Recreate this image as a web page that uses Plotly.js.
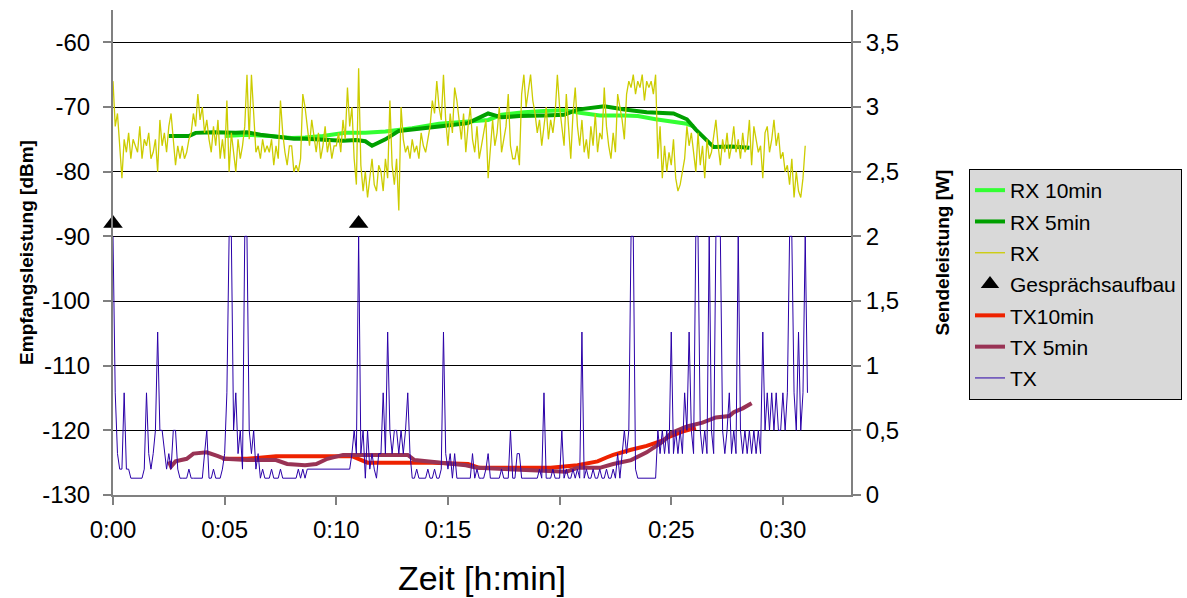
<!DOCTYPE html>
<html><head><meta charset="utf-8">
<script src="https://cdn.plot.ly/plotly-3.0.1.min.js"></script>
<style>html,body{margin:0;padding:0;background:#fff}#chart{width:1187px;height:598px}</style>
</head><body><div id="chart"></div>
<script>
// Raw samples every 0.1 min, starting at 0:00
const SAMPLE_STEP_MIN = 0.1;

// RX [dBm], one row per minute (10 samples)
const rxValues = [
 -66,-73,-71,-77,-81,-75,-77,-74,-78,-75,
 -76,-77,-73,-78,-75,-76,-74,-78,-77,-75,
 -80,-72,-76,-74,-77,-73,-71,-75,-79,-76,
 -78,-76,-78,-77,-75,-74,-71,-73,-68,-72,
 -70,-74,-72,-75,-77,-73,-76,-72,-78,-75,
 -78,-69,-80,-74,-77,-80,-75,-78,-76,-73,
 -65,-75,-65,-72,-77,-76,-78,-75,-77,-76,
 -77,-75,-79,-76,-78,-69,-74,-77,-79,-76,
 -76,-80,-79,-80,-78,-68,-70,-73,-76,-72,
 -75,-77,-74,-78,-76,-73,-77,-75,-78,-76,
 -76,-74,-77,-72,-75,-67,-73,-70,-78,-82,
 -64,-79,-83,-80,-84,-81,-78,-82,-83,-79,
 -80,-83,-78,-81,-69,-79,-82,-78,-86,-70,
 -75,-77,-76,-78,-75,-77,-76,-78,-74,-76,
 -77,-75,-73,-69,-71,-66,-70,-72,-65,-72,
 -76,-71,-74,-67,-69,-72,-75,-71,-77,-73,
 -70,-75,-77,-73,-78,-76,-74,-72,-81,-76,
 -72,-76,-74,-70,-77,-75,-73,-68,-76,-78,
 -78,-76,-79,-68,-65,-70,-67,-65,-69,-71,
 -74,-72,-76,-73,-70,-75,-72,-74,-71,-65,
 -70,-73,-76,-68,-74,-78,-71,-67,-73,-76,
 -72,-77,-75,-78,-73,-76,-71,-77,-74,-75,
 -67,-73,-76,-78,-74,-77,-68,-70,-72,-75,
 -68,-66,-67,-65,-68,-66,-67,-65,-69,-66,
 -67,-66,-68,-65,-78,-73,-81,-76,-80,-77,
 -79,-75,-81,-83,-82,-80,-78,-73,-76,-74,
 -77,-80,-74,-79,-76,-81,-75,-78,-77,-74,
 -72,-76,-79,-75,-77,-74,-78,-76,-73,-77,
 -75,-78,-74,-77,-76,-72,-79,-73,-75,-77,
 -76,-81,-74,-73,-77,-75,-72,-76,-74,-78,
 -77,-80,-79,-82,-78,-84,-80,-83,-84,-81,
 -76
];

// TX [W], one row per minute (10 samples)
const txValues = [
 2.0,0.79,0.32,0.2,0.2,0.79,0.2,0.2,0.13,0.13,
 0.13,0.13,0.13,0.13,0.2,0.79,0.32,0.2,0.32,0.5,
 1.26,0.5,0.5,0.32,0.2,0.32,0.2,0.5,0.5,0.2,
 0.13,0.13,0.13,0.13,0.2,0.13,0.13,0.13,0.13,0.13,
 0.13,0.32,0.5,0.13,0.13,0.2,0.13,0.13,0.13,0.2,
 0.32,0.79,2.0,2.0,0.5,0.79,0.32,0.5,0.2,2.0,
 2.0,0.5,0.32,0.5,0.2,0.32,0.13,0.2,0.13,0.13,
 0.13,0.2,0.13,0.13,0.13,0.2,0.13,0.13,0.13,0.13,
 0.13,0.13,0.13,0.2,0.13,0.2,0.13,0.2,0.2,0.2,
 0.2,0.2,0.2,0.2,0.2,0.2,0.2,0.2,0.2,0.2,
 0.2,0.2,0.2,0.2,0.2,0.2,0.2,0.32,0.5,0.32,
 2.0,0.32,0.5,0.13,0.5,0.2,0.32,0.2,0.13,0.32,
 0.32,0.79,0.32,1.26,0.5,0.32,0.5,0.5,0.32,0.5,
 0.32,0.5,0.79,0.32,0.13,0.13,0.2,0.13,0.13,0.13,
 0.13,0.2,0.13,0.13,0.2,0.13,0.13,0.2,1.26,0.32,
 0.2,0.32,0.13,0.32,0.13,0.13,0.13,0.13,0.13,0.13,
 0.13,0.32,0.13,0.2,0.13,0.13,0.13,0.2,0.32,0.13,
 0.13,0.13,0.13,0.13,0.2,0.13,0.13,0.13,0.5,0.13,
 0.13,0.32,0.32,0.13,0.13,0.13,0.13,0.13,0.13,0.13,
 0.13,0.2,0.13,0.79,0.13,0.13,0.13,0.2,0.13,0.13,
 0.13,0.5,0.13,0.2,0.13,0.13,0.2,0.13,0.2,0.13,
 1.26,0.13,0.2,0.13,0.13,0.2,0.13,0.13,0.2,0.13,
 0.13,0.2,0.13,0.13,0.2,0.13,0.32,0.13,0.32,0.5,
 0.32,0.5,2.0,2.0,0.2,0.13,0.13,0.13,0.13,0.13,
 0.13,0.13,0.13,0.13,0.5,0.32,0.5,0.32,0.5,0.32,
 1.26,0.32,0.5,0.32,0.5,0.32,0.79,0.5,1.26,0.5,
 0.32,2.0,2.0,0.5,0.32,0.5,0.32,2.0,0.5,0.32,
 2.0,2.0,2.0,0.5,0.32,0.5,0.79,0.32,0.5,0.32,
 2.0,0.5,0.32,0.5,0.32,0.5,0.32,0.5,0.32,0.5,
 0.32,1.26,0.5,0.79,0.5,0.79,0.5,0.79,0.5,0.5,
 0.79,0.5,0.79,2.0,2.0,0.79,0.5,1.26,0.5,0.79,
 2.0,0.79
];

// Moving averages
const rx10Time   = [5.0,6.0,7.0,8.0,8.6,9.4,10.4,11.3,12.2,13.4,14.6,15.9,16.8,17.4,18.4,19.3,20.2,20.9,21.8,22.9,23.5,24.3,25.1,25.7,26.0];
const rx10Values = [-74.5,-74.3,-74.5,-74.8,-74.7,-74.5,-74.0,-74.0,-73.8,-73.3,-72.6,-72.2,-72.0,-71.2,-70.8,-70.6,-70.5,-70.9,-71.3,-71.3,-71.4,-71.9,-72.3,-72.6,-73.0];

const rx5Time   = [2.5,3.4,3.7,4.5,5.5,6.0,6.6,7.5,8.1,8.6,9.4,10.3,10.9,11.3,11.6,12.2,12.8,13.7,14.6,15.9,16.5,16.8,17.4,18.2,19.3,20.2,20.8,22.0,22.9,23.9,25.1,25.7,26.1,26.7,26.9,27.7,28.5];
const rx5Values = [-74.5,-74.5,-74.0,-73.9,-74.0,-73.9,-74.3,-74.7,-74.9,-74.9,-75.0,-75.2,-75.1,-75.3,-76.0,-75.0,-73.7,-73.4,-73.0,-72.5,-71.5,-71.0,-71.6,-71.4,-71.3,-71.2,-70.4,-69.9,-70.4,-70.8,-71.0,-71.9,-73.5,-75.5,-76.2,-76.1,-76.3];

const tx10Time   = [4.9,6.0,7.3,9.2,10.7,11.4,14.3,15.9,16.4,17.9,19.6,20.8,21.7,22.1,22.4,23.2,23.9,24.6,24.9,25.5,26.1];
const tx10Values = [0.28,0.28,0.30,0.30,0.30,0.25,0.25,0.24,0.21,0.21,0.21,0.23,0.26,0.29,0.31,0.35,0.38,0.42,0.45,0.49,0.52];

const tx5Time   = [2.5,2.6,2.8,3.3,3.6,4.2,4.7,5.0,6.0,7.3,7.8,8.6,9.1,9.6,10.3,12.0,13.2,13.5,14.5,15.8,16.3,17.6,19.4,20.3,20.8,21.8,22.4,23.2,23.9,24.6,25.0,25.7,26.4,27.0,27.6,27.8,28.2,28.6];
const tx5Values = [0.26,0.22,0.26,0.28,0.32,0.33,0.30,0.28,0.27,0.27,0.24,0.23,0.24,0.28,0.31,0.31,0.31,0.27,0.25,0.23,0.21,0.20,0.19,0.18,0.21,0.21,0.24,0.27,0.33,0.41,0.48,0.53,0.56,0.60,0.61,0.64,0.67,0.71];

// Call set-up events (Gesprächsaufbau)
const callTime  = [0, 11.0];
const callLevel = [-88, -88];

// Ticks
const xTickVals  = [0,5,10,15,20,25,30];
const xTickText  = ['0:00','0:05','0:10','0:15','0:20','0:25','0:30'];
const yLTickVals = [-130,-120,-110,-100,-90,-80,-70,-60];
const yLTickText = ['-130','-120','-110','-100','-90','-80','-70','-60'];
const yRTickVals = [0,0.5,1,1.5,2,2.5,3,3.5];
const yRTickText = ['0','0,5','1','1,5','2','2,5','3','3,5'];

const sampleTimes = n => Array.from({length:n}, (_, i) => Math.round(i * SAMPLE_STEP_MIN * 10) / 10);

const traces = [
  {name:'RX 10min', x:rx10Time, y:rx10Values, mode:'lines', line:{color:'#33ff33', width:4}, legendgroup:'a'},
  {name:'RX 5min', x:rx5Time, y:rx5Values, mode:'lines', line:{color:'#00a000', width:4}, legendgroup:'b'},
  {name:'RX', x:sampleTimes(rxValues.length), y:rxValues, mode:'lines', line:{color:'#cccc00', width:1.3}, legendgroup:'c'},
  {name:'Gesprächsaufbau', x:callTime, y:callLevel, mode:'markers', cliponaxis:false, marker:{symbol:'triangle-up', size:17, color:'#000'}, legendgroup:'d'},
  {name:'TX10min', x:tx10Time, y:tx10Values, yaxis:'y2', mode:'lines', line:{color:'#ee2200', width:4}, legendgroup:'e'},
  {name:'TX 5min', x:tx5Time, y:tx5Values, yaxis:'y2', mode:'lines', line:{color:'#993355', width:4}, legendgroup:'f'},
  {name:'TX', x:sampleTimes(txValues.length), y:txValues, yaxis:'y2', mode:'lines', line:{color:'#2a00a8', width:1}, legendgroup:'g'}
];

const font = 'Liberation Sans, Arial, sans-serif';
const layout = {
  width:1187, height:598,
  margin:{l:113, r:336, t:10, b:103},
  paper_bgcolor:'#ffffff', plot_bgcolor:'#ffffff',
  font:{family:font, color:'#000', size:21},
  hovermode:false,
  showlegend:true,
  legend:{xref:'container', yref:'container', x:969/1187, xanchor:'left', y:1-169/598, yanchor:'top',
          bgcolor:'#d9d9d9', bordercolor:'#000', borderwidth:1,
          font:{size:21, family:font}, traceorder:'grouped', tracegroupgap:1},
  xaxis:{range:[0,33.05], tickvals:xTickVals, ticktext:xTickText, ticks:'outside', ticklen:8, tickwidth:2, tickcolor:'#808080',
         showline:true, linecolor:'#808080', linewidth:2, showgrid:false, zeroline:false, tickfont:{size:24},
         ticklabelstandoff:4,
         title:{text:'Zeit [h:min]', font:{size:34}, standoff:24}},
  yaxis:{range:[-130,-55], tickvals:yLTickVals, ticktext:yLTickText, ticks:'outside', ticklen:8, tickwidth:2, tickcolor:'#808080',
         showline:true, linecolor:'#808080', linewidth:2, showgrid:true, gridcolor:'#000', gridwidth:1, zeroline:false,
         tickfont:{size:24}, ticklabelstandoff:8,
         title:{text:'<b>Empfangsleistung [dBm]</b>', font:{size:19}, standoff:4}},
  yaxis2:{range:[0,3.75], overlaying:'y', side:'right', tickvals:yRTickVals, ticktext:yRTickText, ticks:'outside', ticklen:8, tickwidth:2, tickcolor:'#808080',
         showline:true, linecolor:'#808080', linewidth:2, showgrid:false, zeroline:false, tickfont:{size:24},
         title:{text:'<b>Sendeleistung [W]</b>', font:{size:19}, standoff:38}}
};

Plotly.newPlot('chart', traces, layout, {displayModeBar:false, staticPlot:true});
</script>
</body></html>
